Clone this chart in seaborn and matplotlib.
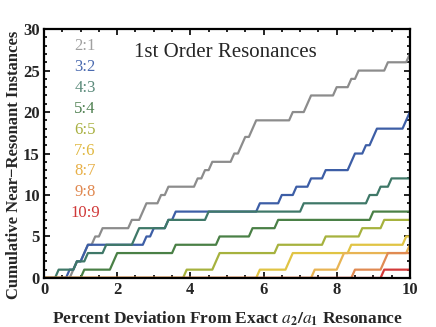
import numpy as np
import pandas as pd
import matplotlib
matplotlib.use('Agg')
import matplotlib.pyplot as plt
from matplotlib.ticker import MultipleLocator
import seaborn as sns

# percent deviation at which each near-resonant pair shows up, per resonance
labels = ["2:1", "3:2", "4:3", "5:4", "6:5", "7:6", "8:7", "9:8", "10:9"]
dev_21 = [0.8, 0.9, 1.1, 1.2, 1.4, 1.6, 2.4, 2.7, 2.8, 3.2, 3.4, 4.2, 4.4, 4.6,
          5.2, 5.4, 5.5, 5.7, 5.8, 6.8, 7.2, 7.3, 8.0, 8.4, 8.6, 9.4, 10.0]
dev_32 = [0.7, 0.9, 1.1, 1.2, 2.8, 3.0, 3.4, 3.6, 5.9, 6.5, 6.9, 7.3, 7.7,
          8.4, 8.5, 8.8, 9.0, 9.1, 9.9, 10.0]
dev_43 = [0.4, 0.9, 1.2, 1.7, 2.5, 2.6, 3.4, 4.5, 7.1, 8.9, 9.2, 9.5]
dev_54 = [1.1, 1.9, 2.0, 3.6, 4.8, 5.7, 6.4, 9.0]
dev_65 = [3.9, 4.7, 4.8, 6.4, 7.7, 8.7, 9.3]
dev_76 = [5.9, 6.7, 6.8, 8.4, 9.9]
dev_87 = [7.4, 8.1, 8.2, 10.0]
dev_98 = [8.5, 9.3, 9.4]
dev_109 = [9.3]
devs = [dev_21, dev_32, dev_43, dev_54, dev_65, dev_76, dev_87, dev_98, dev_109]

line_colors = ["#8c8c8c", "#3d5ea6", "#3f7868", "#4a8046", "#a6b23e",
               "#e0c444", "#e8b454", "#e08a52", "#d23a3a"]
text_colors = ["#a0a0a0", "#4a6ab0", "#5a8a7a", "#4e8050", "#a8b040",
               "#e0b840", "#e8b048", "#e08850", "#d03838"]

grid = np.round(np.arange(0, 10.001, 0.1), 2)
rows = []
for lab, d in zip(labels, devs):
    counts = np.searchsorted(np.sort(d), grid, side='right')
    for g, c in zip(grid, counts):
        rows.append((lab, g, c))
df = pd.DataFrame(rows, columns=["resonance", "deviation", "count"])

sns.set_style("ticks")
plt.rcParams['font.family'] = ['Liberation Serif', 'DejaVu Serif']
plt.rcParams['mathtext.fontset'] = 'stix'

fig = plt.figure(figsize=(4.36, 3.27), dpi=100)
ax = fig.add_axes([0.101, 0.150, 0.839, 0.761])

sns.lineplot(data=df, x="deviation", y="count", hue="resonance",
             hue_order=labels, palette=line_colors, estimator=None,
             linewidth=1.6, legend=False, ax=ax)

ax.set_xlim(0, 10)
ax.set_ylim(0, 30)
ax.xaxis.set_major_locator(MultipleLocator(2))
ax.xaxis.set_minor_locator(MultipleLocator(0.5))
ax.yaxis.set_major_locator(MultipleLocator(5))
ax.yaxis.set_minor_locator(MultipleLocator(1))
ax.tick_params(which='both', direction='in', top=True, right=True, width=1.2, color='black')
ax.tick_params(which='major', length=4, labelsize=12, pad=3)
ax.tick_params(which='minor', length=2)
for t in ax.get_xticklabels() + ax.get_yticklabels():
    t.set_fontweight('bold')
for s in ax.spines.values():
    s.set_linewidth(1.6)
    s.set_color('black')

ax.set_xlabel(r"Percent Deviation From Exact $\mathbf{\mathit{a}_2/\mathit{a}_1}$ Resonance",
              fontsize=12.5, fontweight='bold', labelpad=8)
ax.set_ylabel("Cumulative Near\u2212Resonant Instances", fontsize=12, fontweight='bold')
ax.yaxis.set_label_coords(-0.06, 0.455)

ax.text(0.245, 0.905, "1st Order Resonances", transform=ax.transAxes,
        fontsize=15, ha='left', va='center')
for i, (lab, col) in enumerate(zip(labels, text_colors)):
    ax.text(0.112, 0.932 - i * 0.084, lab, transform=ax.transAxes,
            fontsize=12, color=col, ha='center', va='center')

plt.savefig("out.png", dpi=100)
plt.close()
